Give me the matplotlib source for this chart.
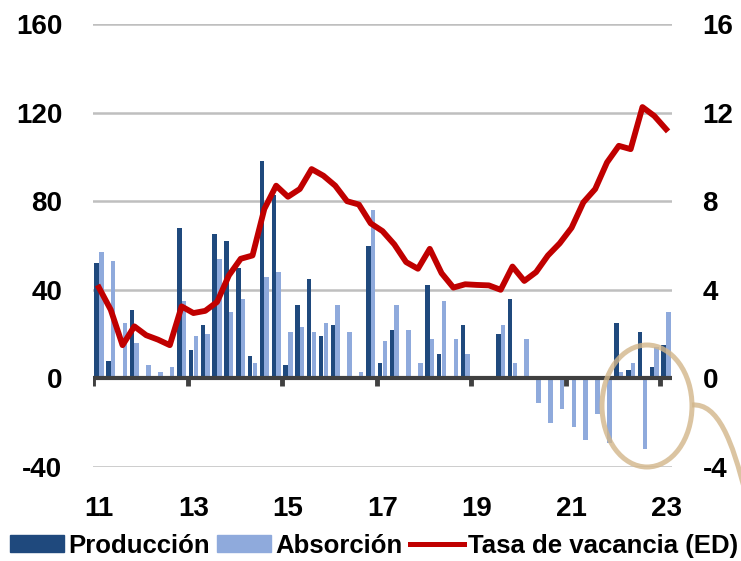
import numpy as np
import matplotlib
matplotlib.use("Agg")
import matplotlib.pyplot as plt
from matplotlib.patches import Patch, Ellipse, PathPatch
from matplotlib.lines import Line2D
from matplotlib.path import Path

plt.rcParams['font.family'] = ['Liberation Sans', 'DejaVu Sans']
plt.rcParams['font.weight'] = 'bold'
plt.rcParams['axes.unicode_minus'] = False

# quarterly data, 2011Q1 .. 2023Q1
year_labels = ['11', '13', '15', '17', '19', '21', '23']
produccion = [52, 8, 0, 31, 0, 0, 0, 68, 13, 24,
              65, 62, 50, 10, 98, 83, 6, 33, 45, 19,
              24, 0, 0, 60, 7, 22, 0, 0, 42, 11,
              0, 24, 0, 0, 20, 36, 0, 0, 0, 0,
              0, 0, 0, 0, 25, 4, 21, 5, 15]
absorcion = [57, 53, 25, 16, 6, 3, 5, 35, 19, 20,
             54, 30, 36, 7, 46, 48, 21, 23, 21, 25,
             33, 21, 3, 76, 17, 33, 22, 7, 18, 35,
             18, 11, 0, 0, 24, 7, 18, -11, -20, -14,
             -22, -28, -16, -29, 3, 7, -32, 14, 30]
vacancia = [4.1, 3.1, 1.5, 2.35, 1.95, 1.75, 1.5, 3.25, 2.95, 3.05,
            3.45, 4.65, 5.4, 5.55, 7.65, 8.7, 8.2, 8.55, 9.45, 9.15,
            8.7, 8.0, 7.85, 7.0, 6.65, 6.05, 5.25, 4.95, 5.85, 4.75,
            4.1, 4.25, 4.22, 4.2, 4.0, 5.05, 4.4, 4.8, 5.55, 6.1,
            6.8, 7.95, 8.55, 9.75, 10.5, 10.35, 12.25, 11.85, 11.25]

dark = '#1F497D'
light = '#8FAADC'
red = '#C00000'
tan = '#D2B68A'

n = len(produccion)
x = np.arange(n)
W, H = 741, 561

fig = plt.figure(figsize=(W / 100, H / 100), dpi=100)
ax = fig.add_axes([93 / W, 1 - 467 / H, (672 - 93) / W, (467 - 24) / H])

ax.bar(x - 0.2, produccion, width=0.38, color=dark, zorder=2)
ax.bar(x + 0.2, absorcion, width=0.38, color=light, zorder=2)

ax.set_xlim(-0.5, n - 0.5)
ax.set_ylim(-40, 160)
ax.set_yticks(range(-40, 161, 40))
ax.yaxis.grid(True, color='#BFBFBF', linewidth=1.8, zorder=0)
ax.set_axisbelow(True)

# zero axis line with tick marks every two years
ax.axhline(0, color='#404040', linewidth=3, zorder=3)
ax.vlines(np.arange(-0.5, n, 8), -3.6, 0, color='#404040', linewidth=3.5, zorder=3)

ax.set_xticks(np.arange(0, n, 8))
ax.set_xticklabels(year_labels)
ax.tick_params(axis='x', length=0, pad=21, labelsize=20)
ax.tick_params(axis='y', length=0, pad=22, labelsize=20)
for s in ax.spines.values():
    s.set_visible(False)

ax2 = ax.twinx()
ax2.plot(x, vacancia, color=red, linewidth=4.2, solid_joinstyle='round', zorder=4)
ax2.set_ylim(-4, 16)
ax2.set_yticks(range(-4, 17, 4))
ax2.tick_params(axis='y', length=0, pad=22, labelsize=20)
for s in ax2.spines.values():
    s.set_visible(False)

# highlight circle + connector
circ = Ellipse((647 / W, 1 - 406 / H), 90 / W, 122 / H, transform=fig.transFigure,
               fill=False, edgecolor=tan, alpha=0.8, linewidth=3.6, zorder=10)
fig.patches.append(circ)
pts = [(692, 405), (718, 403), (732, 440), (746, 495)]
path = Path([(px / W, 1 - py / H) for px, py in pts],
            [Path.MOVETO, Path.CURVE4, Path.CURVE4, Path.CURVE4])
fig.patches.append(PathPatch(path, transform=fig.transFigure, fill=False,
                             edgecolor=tan, alpha=0.8, linewidth=3.6))

handles = [Patch(color=dark, label='Producción'),
           Patch(color=light, label='Absorción'),
           Line2D([0], [0], color=red, linewidth=3.6, label='Tasa de vacancia (ED)')]
fig.legend(handles=handles, loc='lower center', bbox_to_anchor=(0.505, -0.022), ncol=3,
           frameon=False, fontsize=18.5, handlelength=2.1, handleheight=0.65,
           handletextpad=0.15, columnspacing=0.3, borderaxespad=0.2)

fig.savefig('out.png', dpi=100)
